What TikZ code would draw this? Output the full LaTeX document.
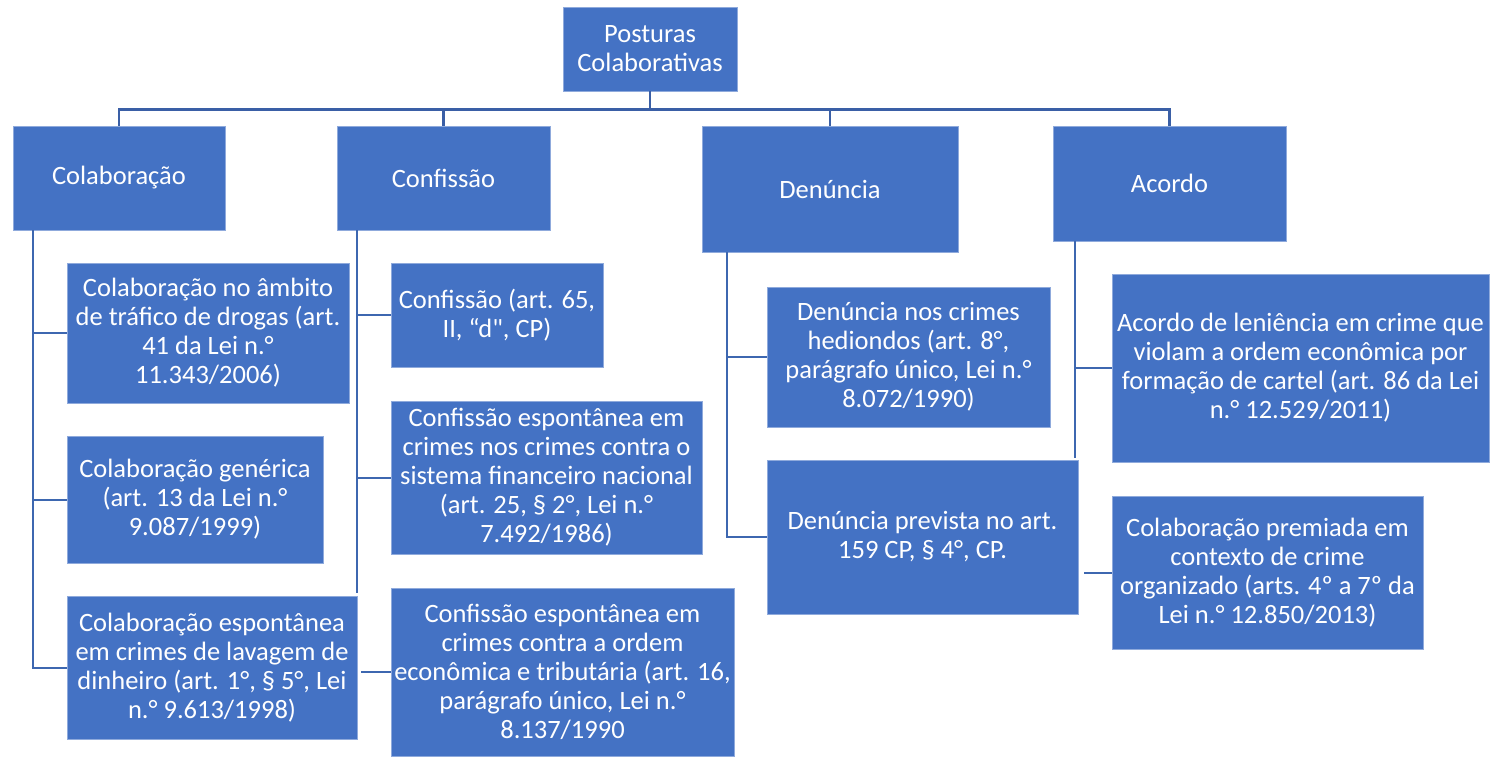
\documentclass[tikz,border=0pt]{standalone}
\usepackage{fontspec}
\setmainfont{Carlito}
\usepackage{tikz}
\usetikzlibrary{positioning}
\definecolor{pcblue}{HTML}{4472C4}
\definecolor{pcedge}{HTML}{8FAADC}
\definecolor{pcline}{HTML}{3A5FA6}
\tikzset{
  pbox/.style={fill=pcblue,draw=pcedge,line width=0.8pt,text=white,align=center,inner sep=0pt,
    font=\fontsize{26.5}{29}\selectfont},
  bus/.style={pcline,line width=2.6pt},
  link/.style={pcblue!90!black,line width=2pt}
}
\begin{document}
\begin{tikzpicture}[x=1pt,y=-1pt]
  \useasboundingbox (0,0) rectangle (1490,756);
  \node[pbox,minimum width=174,minimum height=84] (top) at (650,49) {Posturas\\Colaborativas};
  \node[pbox,minimum width=212,minimum height=104] (colab) at (119,178) {Colaboração};
  \node[pbox,minimum width=213,minimum height=104] (conf) at (443.5,178) {Confissão};
  \node[pbox,minimum width=256,minimum height=126] (denun) at (830,189) {Denúncia};
  \node[pbox,minimum width=233,minimum height=115] (acordo) at (1169.5,183.5) {Acordo};
  \node[pbox,minimum width=282,minimum height=140] (colabA) at (208,333) {Colaboração no âmbito\\de tráfico de drogas (art.\\41 da Lei n.°\\11.343/2006)};
  \node[pbox,minimum width=256,minimum height=127] (colabB) at (195,499.5) {Colaboração genérica\\(art. 13 da Lei n.°\\9.087/1999)};
  \node[pbox,minimum width=290,minimum height=143] (colabC) at (212,667.5) {Colaboração espontânea\\em crimes de lavagem de\\dinheiro (art. 1°, § 5°, Lei\\n.° 9.613/1998)};
  \node[pbox,minimum width=212,minimum height=104] (confA) at (497,315) {Confissão (art. 65,\\II, “d\textquotedbl, CP)};
  \node[pbox,minimum width=311,minimum height=153] (confB) at (546.5,477.5) {Confissão espontânea em\\crimes nos crimes contra o\\sistema financeiro nacional\\(art. 25, § 2°, Lei n.°\\7.492/1986)};
  \node[pbox,minimum width=343,minimum height=168] (confC) at (562.5,672) {Confissão espontânea em\\crimes contra a ordem\\econômica e tributária (art. 16,\\parágrafo único, Lei n.°\\8.137/1990};
  \node[pbox,minimum width=283,minimum height=140] (denA) at (908.5,357) {Denúncia nos crimes\\hediondos (art. 8°,\\parágrafo único, Lei n.°\\8.072/1990)};
  \node[pbox,minimum width=311,minimum height=154] (denB) at (922.5,537) {Denúncia prevista no art.\\159 CP, § 4°, CP.};
  \node[pbox,minimum width=377,minimum height=188] (acA) at (1300.5,368) {Acordo de leniência em crime que\\violam a ordem econômica por\\formação de cartel (art. 86 da Lei\\n.° 12.529/2011)};
  \node[pbox,minimum width=311,minimum height=153] (acB) at (1267.5,572.5) {Colaboração premiada em\\contexto de crime\\organizado (arts. 4º a 7º da\\Lei n.° 12.850/2013)};
  \draw[bus] (top.south) -- ++(0,18) coordinate (busmid);
  \draw[bus] (colab.north) |- (busmid) -| (acordo.north);
  \foreach \n in {conf,denun} \draw[bus] (\n.north) -- (\n.north |- busmid);
  \coordinate (colabline) at ([xshift=20pt]colab.south west);
  \draw[link] (colabline) |- (colabC.west);
  \foreach \c in {colabA,colabB} \draw[link] (\c.west) -- (\c.west -| colabline);
  \coordinate (confline) at ([xshift=20pt]conf.south west);
  \draw[link] (confline) -- ++(0,363);
  \foreach \c in {confA,confB} \draw[link] (\c.west) -- (\c.west -| confline);
  \draw[link] (confC.west) -- ++(-30,0);
  \coordinate (denline) at ([xshift=25pt]denun.south west);
  \draw[link] (denline) |- (denB.west);
  \draw[link] (denA.west) -- (denA.west -| denline);
  \coordinate (acline) at ([xshift=22pt]acordo.south west);
  \draw[link] (acline) -- ++(0,217);
  \draw[link] (acA.west) -- (acA.west -| acline);
  \draw[link] (acB.west) -- ++(-28,0);
\end{tikzpicture}
\end{document}
